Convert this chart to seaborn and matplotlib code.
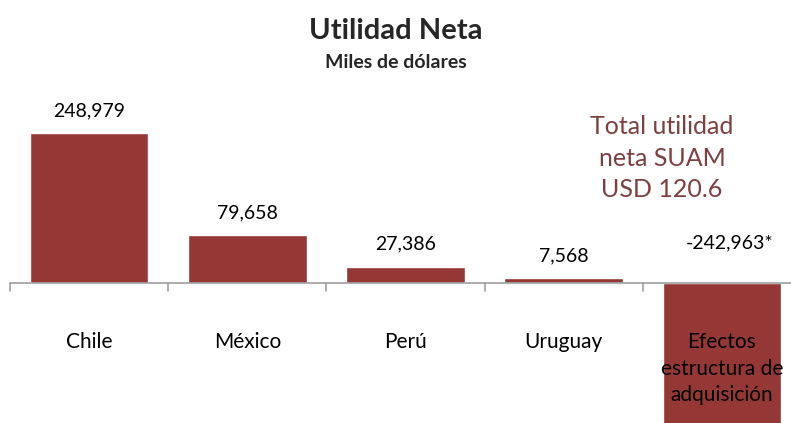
import pandas as pd
import matplotlib.pyplot as plt
import seaborn as sns

# data
categorias = ['Chile', 'México', 'Perú', 'Uruguay', 'Efectos\nestructura de\nadquisición']
utilidad = [248979, 79658, 27386, 7568, -242963]
etiquetas = ['248,979', '79,658', '27,386', '7,568', '-242,963*']

sns.set_style('white')
plt.rcParams['font.family'] = ['Lato', 'DejaVu Sans']

df = pd.DataFrame({'pais': categorias, 'utilidad': utilidad})

fig = plt.figure(figsize=(7.91, 4.23), dpi=100)
# axes spans full height; x runs a bit past the right edge like the original
ax = fig.add_axes([10 / 791, 0, 791 / 791, 1])

sns.barplot(data=df, x='pais', y='utilidad', color='#953735', width=0.75,
            saturation=1, ax=ax)

# scale: zero line at 283 px from top, Chile top at 133 px
k = (283 - 133) / 248979
ax.set_ylim(-(423 - 283) / k, 283 / k)
ax.set_xlim(-0.5, 4.5)

for s in ['top', 'right', 'left', 'bottom']:
    ax.spines[s].set_visible(False)
ax.axhline(0, color='#a0a0a0', lw=1.2, zorder=3)
ax.set_yticks([])
ax.set_xticks([])
ax.set_xlabel('')
ax.set_ylabel('')

# boundary ticks under the zero line
for b in [-0.5, 0.5, 1.5, 2.5, 3.5]:
    ax.plot([b, b], [0, -8 / k], color='#a0a0a0', lw=1.2, clip_on=False, zorder=3)

# value labels
for i, (v, t) in enumerate(zip(utilidad, etiquetas)):
    if v > 0:
        ax.text(i, v + 14 / k, t, ha='center', va='bottom', fontsize=14, color='black')
    else:
        ax.text(i + 0.05, 32 / k, t, ha='center', va='bottom', fontsize=14, color='black')

# category labels under the axis
for i, c in enumerate(categorias):
    ax.text(i, -49 / k, c, ha='center', va='top', fontsize=15, color='black',
            linespacing=1.42, zorder=4)

fig.text(0.5, 1 - 31 / 423, 'Utilidad Neta', ha='center', va='center',
         fontsize=21, fontweight='bold')
fig.text(0.5, 1 - 62 / 423, 'Miles de dólares', ha='center', va='center',
         fontsize=14, fontweight='bold')
fig.text(662 / 791, 1 - 158 / 423, 'Total utilidad\nneta SUAM\nUSD 120.6',
         ha='center', va='center', fontsize=18, color='#7f3f3f', linespacing=1.45)

fig.savefig('out.png', dpi=100)
plt.close()
